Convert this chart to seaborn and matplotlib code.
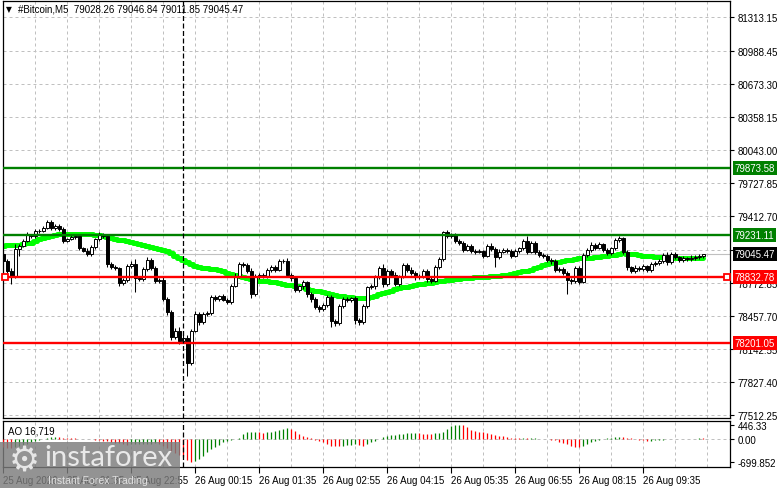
import numpy as np
import pandas as pd
import matplotlib
matplotlib.use("Agg")
import matplotlib.pyplot as plt
import seaborn as sns
from matplotlib.patches import Rectangle

# ---------------- data ----------------
first_open = 79050.0
closes = [
    78986, 78891, 78837, 79098, 79129, 79177, 79231, 79225, 79266, 79273,
    79298, 79359, 79295, 79320, 79289, 79177, 79193, 79209, 79225, 79104,
    79082, 79050, 79113, 79193, 79241, 79219, 78954, 78923, 78913, 78773,
    78802, 78932, 78954, 78817, 78811, 78907, 78996, 78913, 78795, 78805,
    78620, 78493, 78254, 78318, 78222, 78244, 78006, 78318, 78477, 78397,
    78477, 78486, 78636, 78620, 78646, 78614, 78588, 78747, 78843, 78954,
    78945, 78891, 78668, 78835, 78849, 78837, 78897, 78922, 78900, 78980,
    78986, 78849, 78817, 78709, 78741, 78779, 78668, 78620, 78541, 78525,
    78563, 78636, 78413, 78391, 78550, 78620, 78614, 78626, 78423, 78404,
    78556, 78732, 78741, 78827, 78913, 78763, 78891, 78849, 78763, 78837,
    78945, 78900, 78868, 78827, 78837, 78891, 78811, 78795, 78922, 79002,
    79257, 79219, 79231, 79177, 79152, 79091, 79129, 79082, 79072, 79075,
    79034, 79123, 79098, 79024, 79072, 79088, 79082, 79034, 79082, 79104,
    79177, 79072, 79155, 79072, 79040, 79031, 78993, 78980, 78900, 78907,
    78868, 78805, 78789, 78916, 78786, 79040, 79091, 79136, 79110, 79142,
    79091, 79059, 79104, 79183, 79199, 79072, 78922, 78887, 78919, 78907,
    78932, 78897, 78954, 78964, 78980, 79040, 78970, 79050, 79018, 78996,
    79008, 79002, 79015, 79021, 79028.26, 79045.47]

upper_wick = [
    18, 12, 22, 47, 15, 20, 25, 14, 23, 18,
    16, 19, 12, 20, 15, 22, 14, 18, 20, 12,
    16, 25, 18, 14, 22, 12, 20, 15, 18, 14,
    20, 25, 30, 48, 18, 15, 22, 12, 20, 15,
    22, 18, 20, 25, 30, 60, 35, 15, 25, 20,
    15, 22, 18, 20, 15, 22, 14, 20, 25, 18,
    15, 20, 22, 25, 15, 20, 18, 20, 25, 20,
    15, 22, 18, 20, 15, 25, 15, 20, 18, 22,
    15, 20, 25, 15, 20, 18, 22, 15, 20, 15,
    20, 15, 22, 18, 20, 40, 20, 15, 25, 15,
    20, 15, 22, 15, 20, 18, 20, 15, 22, 15,
    16, 20, 15, 22, 15, 20, 18, 20, 15, 20,
    15, 20, 30, 15, 22, 15, 20, 18, 20, 15,
    20, 48, 15, 20, 15, 22, 15, 20, 18, 20,
    15, 20, 15, 22, 15, 20, 18, 25, 15, 20,
    15, 20, 15, 22, 26, 15, 20, 15, 22, 15,
    20, 15, 22, 15, 20, 18, 25, 15, 20, 15,
    20, 15, 22, 15, 18, 1.37]

lower_wick = [
    20, 25, 74, 18, 64, 15, 12, 20, 18, 15,
    14, 12, 20, 15, 18, 22, 15, 12, 18, 20,
    15, 22, 18, 12, 15, 20, 25, 18, 20, 30,
    15, 18, 12, 133, 20, 15, 18, 20, 25, 18,
    20, 22, 25, 18, 30, 20, 118, 20, 15, 22,
    18, 15, 20, 18, 22, 15, 20, 18, 15, 20,
    18, 20, 35, 15, 20, 18, 15, 20, 18, 15,
    20, 18, 25, 20, 18, 22, 25, 30, 20, 25,
    22, 18, 63, 30, 20, 18, 22, 20, 40, 35,
    20, 18, 15, 22, 20, 25, 18, 20, 22, 15,
    18, 20, 15, 22, 18, 20, 25, 18, 15, 20,
    18, 20, 15, 22, 18, 20, 15, 18, 20, 15,
    18, 15, 20, 102, 18, 15, 20, 18, 15, 20,
    18, 20, 15, 22, 18, 15, 20, 25, 18, 20,
    22, 137, 30, 20, 25, 18, 15, 20, 18, 15,
    20, 18, 15, 20, 18, 22, 25, 20, 18, 15,
    20, 18, 15, 22, 18, 20, 25, 18, 15, 20,
    18, 15, 20, 18, 15, 16.41]

ma_values = [
    79129, 79131, 79133, 79136, 79140, 79145, 79150, 79155, 79170, 79193,
    79205, 79215, 79225, 79231, 79237, 79241, 79242, 79243, 79243, 79243,
    79242, 79241, 79238, 79234, 79230, 79225, 79212, 79199, 79193, 79186,
    79181, 79177, 79166, 79155, 79145, 79135, 79124, 79113, 79105, 79097,
    79090, 79082, 79055, 79028, 79009, 78990, 78970, 78951, 78932, 78925,
    78919, 78913, 78908, 78902, 78897, 78885, 78872, 78859, 78848, 78838,
    78827, 78817, 78810, 78803, 78795, 78795, 78795, 78787, 78779, 78771,
    78763, 78758, 78752, 78747, 78741, 78731, 78720, 78710, 78700, 78692,
    78683, 78675, 78666, 78658, 78652, 78647, 78641, 78636, 78633, 78629,
    78626, 78634, 78643, 78652, 78664, 78676, 78688, 78700, 78711, 78721,
    78732, 78739, 78747, 78754, 78759, 78764, 78768, 78773, 78780, 78788,
    78795, 78800, 78806, 78811, 78814, 78817, 78821, 78824, 78827, 78829,
    78831, 78833, 78835, 78837, 78837, 78845, 78853, 78860, 78868, 78876,
    78884, 78892, 78900, 78914, 78927, 78941, 78954, 78962, 78970, 78978,
    78986, 78992, 78997, 79003, 79008, 79011, 79013, 79016, 79018, 79022,
    79027, 79031, 79036, 79040, 79048, 79056, 79054, 79052, 79050, 79043,
    79035, 79028, 79026, 79023, 79021, 79018, 79016, 79013, 79011, 79008,
    79008, 79008, 79008, 79008, 79008, 79008]

ao_values = [
    -250, -270, -290, -260, -220, -180, -140, -100, -60, -20,
    15, 35, 50, 55, 50, 42, 33, 25, 18, 12,
    5, -5, -14, -25, -40, -55, -75, -95, -115, -135,
    -155, -170, -165, -160, -155, -150, -145, -140, -135, -160,
    -210, -280, -360, -430, -490, -560, -640, -699.852, -670, -618,
    -515, -412, -309, -258, -185, -103, -72, -31, 10, 40,
    155, 206, 227, 230, 206, 185, 206, 227, 258, 288,
    309, 330, 309, 258, 155, 103, 52, 21, -21, -52,
    -103, -155, -206, -227, -230, -206, -185, -180, -155, -185,
    -206, -155, -103, -52, -5, 52, 103, 124, 134, 144,
    165, 185, 190, 196, 185, 165, 155, 150, 175, 196,
    227, 309, 391, 432, 446.33, 432, 360, 288, 258, 227,
    206, 185, 155, 134, 103, 82, 52, 41, 31, 25,
    30, 20, 24, 30, 10, 14, -10, -21, -41, -82,
    -124, -165, -206, -237, -258, -206, -155, -103, -62, -31,
    0, 21, 31, 52, 62, 55, 41, 21, 0, -21,
    -41, -52, -48, -41, -31, -21, -10, -4, 10, 14,
    12, 8, 5, 12, 20, 16.719]

level_prices = [79873.58, 79231.11, 78832.78, 78201.05]
level_labels = ["79873.58", "79231.11", "78832.78", "78201.05"]
current_price = 79045.47
current_label = "79045.47"

price_ticks = [81313.15, 80988.45, 80673.30, 80358.15, 80043.00, 79727.85,
               79412.70, 79088.00, 78772.85, 78457.70, 78142.55, 77827.40, 77512.25]
price_tick_labels = ["81313.15", "80988.45", "80673.30", "80358.15", "80043.00",
                     "79727.85", "79412.70", "79088.00", "78772.85", "78457.70",
                     "78142.55", "77827.40", "77512.25"]

time_label_bars = [0, 16, 32, 48, 64, 80, 96, 112, 128, 144, 160]
time_labels = ["25 Aug 2026", "25 Aug 21:35", "25 Aug 22:55", "26 Aug 00:15",
               "26 Aug 01:35", "26 Aug 02:55", "26 Aug 04:15", "26 Aug 05:35",
               "26 Aug 06:55", "26 Aug 08:15", "26 Aug 09:35"]
grid_bars = list(range(8, 182, 8))
marker_bar = 45

ao_ticks = [446.33, 0.0, -699.852]
ao_tick_labels = ["446.33", "0.00", "-699.852"]
ao_title = "AO 16,719"
header = "#Bitcoin,M5  79028.26 79046.84 79011.85 79045.47"

# ---------------- styling ----------------
sns.set_style("white")
plt.rcParams['font.family'] = ['Liberation Sans', 'DejaVu Sans']
plt.rcParams['font.size'] = 7

W, H = 781, 489
fig = plt.figure(figsize=(W / 100, H / 100), dpi=100)
fig.patch.set_facecolor('white')


def px_rect(x0, y0, x1, y1):
    return [x0 / W, 1 - y1 / H, (x1 - x0) / W, (y1 - y0) / H]


ax = fig.add_axes(px_rect(2.7, 2, 730, 419))
ax_ao = fig.add_axes(px_rect(2.7, 421.5, 730, 468))

n = len(closes)
bars = np.arange(n)
df = pd.DataFrame({
    "bar": bars,
    "open": [first_open] + closes[:-1],
    "close": closes,
    "up": upper_wick,
    "dn": lower_wick,
    "ma": ma_values,
    "ao": ao_values,
})
df["high"] = df[["open", "close"]].max(axis=1) + df["up"]
df["low"] = df[["open", "close"]].min(axis=1) - df["dn"]

XMIN, XMAX = -0.15, 181.7
grid_kw = dict(color='#c0c0c0', lw=0.72, ls=(0, (3, 3)), zorder=0)

# ---- main panel ----
for gb in grid_bars:
    ax.axvline(gb, **grid_kw)
for pt in price_ticks:
    ax.axhline(pt, **grid_kw)

ax.axhline(current_price, color='#c0c0c0', lw=0.8, zorder=1)

sns.lineplot(data=df, x="bar", y="ma", ax=ax, color="#00ff00", lw=3.6,
             legend=False, zorder=2, drawstyle='steps-mid')

ax.vlines(df["bar"], df["low"], df["high"], color='black', lw=0.75, zorder=3)
body_bottom = df[["open", "close"]].min(axis=1)
body_h = (df["close"] - df["open"]).abs().clip(lower=1.0)
is_up = df["close"] >= df["open"]
ax.bar(df["bar"][is_up], body_h[is_up], bottom=body_bottom[is_up], width=0.75,
       color='white', edgecolor='black', lw=0.7, zorder=4)
ax.bar(df["bar"][~is_up], body_h[~is_up], bottom=body_bottom[~is_up], width=0.75,
       color='black', edgecolor='black', lw=0.7, zorder=4)

level_colors = ['#008000', '#008000', '#ff0000', '#ff0000']
for price, lab, col in zip(level_prices, level_labels, level_colors):
    ax.axhline(price, color=col, lw=1.7, zorder=6)
    ax.annotate(lab, xy=(1, price), xycoords=('axes fraction', 'data'),
                xytext=(3.3, 0), textcoords='offset points', ha='left', va='center',
                color='white', fontsize=7,
                bbox=dict(boxstyle='square,pad=0.2', fc=col, ec='none'),
                annotation_clip=False, zorder=10)
ax.annotate(current_label, xy=(1, current_price), xycoords=('axes fraction', 'data'),
            xytext=(3.3, 0), textcoords='offset points', ha='left', va='center',
            color='white', fontsize=7,
            bbox=dict(boxstyle='square,pad=0.2', fc='black', ec='none'),
            annotation_clip=False, zorder=10)
ax.plot([0.45, 181.0], [level_prices[2], level_prices[2]], ls='none', marker='s',
        ms=4.2, mfc='white', mec='#ff0000', mew=1.3, zorder=7, clip_on=False)

ax.axvline(marker_bar, color='black', lw=0.9, ls=(0, (4, 2)), zorder=6)

ax.set_xlim(XMIN, XMAX)
ax.set_ylim(77483.5, 81465.8)
ax.set_yticks(price_ticks)
ax.set_yticklabels(price_tick_labels)
ax.set_xticks([])
ax.tick_params(axis='y', left=False, right=True, labelleft=False, labelright=True,
               length=3, width=0.8, pad=2.5, direction='out', labelsize=7, colors='black')
ax.set_xlabel("")
ax.set_ylabel("")
for s in ax.spines.values():
    s.set_color('black')
    s.set_linewidth(0.9)
    s.set_visible(True)

# ---- AO panel ----
for gb in grid_bars:
    ax_ao.axvline(gb, **grid_kw)
ax_ao.axhline(0, **grid_kw)
ao_arr = np.array(ao_values)
ao_cols = ['#ff0000'] + ['#008000' if ao_arr[i] > ao_arr[i - 1] else '#ff0000'
                         for i in range(1, n)]
ax_ao.vlines(bars, 0, ao_arr, colors=ao_cols, lw=0.9, zorder=3)
ax_ao.axvline(marker_bar, color='black', lw=0.9, ls=(0, (4, 2)), zorder=6)
ax_ao.set_xlim(XMIN, XMAX)
ax_ao.set_ylim(-865, 572)
ax_ao.set_yticks(ao_ticks)
ax_ao.set_yticklabels(ao_tick_labels)
ax_ao.tick_params(axis='y', left=False, right=True, labelleft=False, labelright=True,
                  length=3, width=0.8, pad=2.5, direction='out', labelsize=7, colors='black')
ax_ao.set_xticks(time_label_bars)
ax_ao.set_xticklabels(time_labels, ha='left')
ax_ao.tick_params(axis='x', bottom=True, length=4, width=0.8, pad=2,
                  direction='out', labelsize=7, colors='black')
for s in ax_ao.spines.values():
    s.set_color('black')
    s.set_linewidth(0.9)
    s.set_visible(True)
ax_ao.text(8 / W, 1 - 432 / H, ao_title, transform=fig.transFigure,
           ha='left', va='center', fontsize=7, color='black')

# ---- header ----
fig.text(6 / W, 1 - 10 / H, "\u25bc", family=['DejaVu Sans'], fontsize=5.5,
         ha='left', va='center', color='black')
fig.text(18 / W, 1 - 10 / H, header, ha='left', va='center', fontsize=7, color='black')

# ---- watermark ----
fig.add_artist(Rectangle((0, 0), 180 / W, 46 / H, transform=fig.transFigure,
                         fc='#7c7c7c', ec='none', alpha=0.82, zorder=20))
fig.text(24 / W, 1 - 462 / H, "\u2699", family=['DejaVu Sans'], fontsize=25,
         ha='center', va='center', color='#e6e6e6', zorder=21)
fig.text(44 / W, 1 - 458 / H, "instaforex", family=['Lato', 'DejaVu Sans'],
         fontsize=21, ha='left', va='center', color='#e9e9e9', zorder=21)
fig.text(48 / W, 1 - 481 / H, "Instant Forex Trading", fontsize=7.6,
         ha='left', va='center', color='#e0e0e0', zorder=21)

fig.savefig("out.png", dpi=100)
